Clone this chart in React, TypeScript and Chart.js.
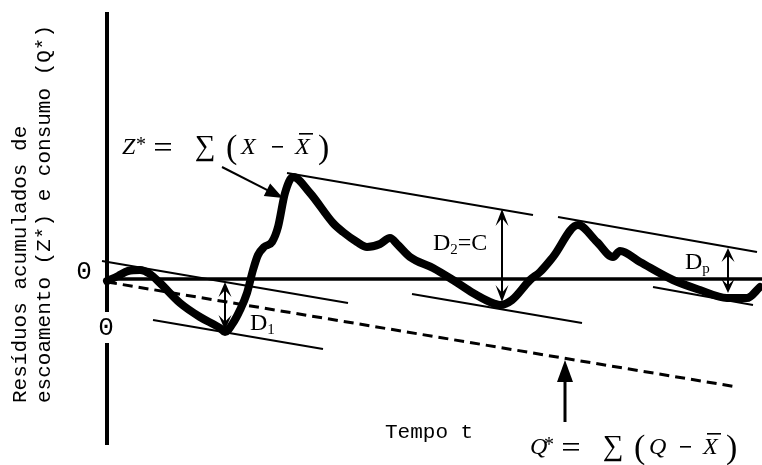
import React, { useEffect, useRef } from "react";
import { Chart, registerables } from "chart.js";

Chart.register(...registerables);

// Time t (arbitrary units) and cumulative residuals of runoff, Z* = Σ(X − X̄)
const zTime = [0, 1.1, 2.1, 3.3, 4.3, 5.3, 7.3, 9.3, 11.3, 11.8, 12.6, 13.3, 14.0, 14.6, 15.1, 15.7, 16.5, 17.1, 17.8, 18.6, 20.3, 22.6, 23.6, 25.0, 26.0, 27.3, 28.3, 29.1, 30.3, 32.6, 34.6, 36.6, 38.3, 39.3, 40.5, 42.3, 43.3, 44.6, 47.1, 49.0, 50.6, 51.3, 53.3, 56.6, 59.3, 62.0, 64.0, 65.3];
const zResidual = [-0.2, 0.3, 0.8, 0.9, 0.5, -0.4, -2.4, -3.8, -4.9, -5.3, -4.4, -3.1, -1.4, 0.9, 2.4, 3.2, 3.7, 5.2, 8.6, 10.2, 8.6, 5.6, 4.7, 3.7, 3.2, 3.5, 4.1, 3.4, 2.2, 1.1, -0.1, -1.4, -2.3, -2.6, -2.1, -0.1, 0.7, 2.2, 5.4, 3.7, 2.2, 2.8, 1.7, -0.1, -1.1, -1.9, -1.9, -0.8];

// Cumulative residuals of consumption, Q* = Σ(Q − X̄) (straight line)
const consumptionTime = [0, 63];
const consumptionResidual = [-0.3, -10.8];

// Zero reference line
const zeroTime = [0, 65.5];
const zeroResidual = [0, 0];

// Vertical axis (two pieces, broken around the origin label)
const axisUpperResidual = [26.7, -3.3];
const axisLowerResidual = [-6.4, -16.6];

// Lines parallel to Q* touching peaks (upper) and troughs (lower)
const upperTangentTime = [[-0.5, 24.1], [18.0, 42.6], [45.1, 65.0]];
const upperTangentResidual = [[1.8, -2.4], [10.6, 6.4], [6.2, 2.7]];
const lowerTangentTime = [[4.6, 21.6], [30.5, 47.5], [54.6, 64.6]];
const lowerTangentResidual = [[-4.1, -7.0], [-1.5, -4.4], [-0.8, -2.6]];

// Deficits D1, D2 = C, Dp
const deficitTime = [11.8, 39.5, 62.1];
const deficitTop = [-0.3, 7.0, 3.1];
const deficitBottom = [-5.1, -2.3, -1.4];
const deficitMain = ["D", "D", "D"];
const deficitSub = ["1", "2", "p"];
const deficitTail = ["", "=C", ""];

const pts = (ts: number[], vs: number[]) => ts.map((t, i) => ({ x: t, y: vs[i] }));

const SERIF = "'Liberation Serif', 'Times New Roman', serif";
const MONO = "'Liberation Mono', 'Courier New', monospace";

function arrowHead(ctx: CanvasRenderingContext2D, tx: number, ty: number, fx: number, fy: number, len: number, half: number, notch: number) {
  const a = Math.atan2(ty - fy, tx - fx);
  const c = Math.cos(a), s = Math.sin(a);
  const bx = tx - c * len, by = ty - s * len;
  ctx.beginPath();
  ctx.moveTo(tx, ty);
  ctx.lineTo(bx - s * half, by + c * half);
  ctx.lineTo(tx - c * (len - notch), ty - s * (len - notch));
  ctx.lineTo(bx + s * half, by - c * half);
  ctx.closePath();
  ctx.fill();
}

function formula(ctx: CanvasRenderingContext2D, x0: number, y: number, lhs: string, inner: string) {
  ctx.textBaseline = "alphabetic";
  ctx.textAlign = "left";
  const base = y + 8;
  ctx.font = `italic 24px ${SERIF}`;
  ctx.fillText(lhs, x0, base);
  ctx.font = `20px ${SERIF}`;
  ctx.fillText("*", x0 + 14, base - 3);
  // equals sign and minus drawn as bars for a wider, even look
  ctx.fillRect(x0 + 33, base - 11, 16, 1.6);
  ctx.fillRect(x0 + 33, base - 5, 16, 1.6);
  ctx.font = `29px ${SERIF}`;
  ctx.fillText("∑", x0 + 73, base + 1);
  ctx.font = `34px ${SERIF}`;
  ctx.fillText("(", x0 + 104, base + 4);
  ctx.font = `italic 24px ${SERIF}`;
  ctx.fillText(inner, x0 + 119, base);
  ctx.fillRect(x0 + 150, base - 8, 11, 1.6);
  ctx.font = `italic 24px ${SERIF}`;
  ctx.fillText("X", x0 + 173, base);
  ctx.fillRect(x0 + 177, base - 21, 14, 1.6);
  ctx.font = `34px ${SERIF}`;
  ctx.fillText(")", x0 + 196, base + 4);
}

const annotations = {
  id: "annotations",
  afterDatasetsDraw(chart: any) {
    const ctx: CanvasRenderingContext2D = chart.ctx;
    const X = (t: number) => chart.scales.x.getPixelForValue(t);
    const Y = (v: number) => chart.scales.y.getPixelForValue(v);
    ctx.save();
    ctx.fillStyle = "#000";
    ctx.strokeStyle = "#000";

    // deficit dimension arrows
    deficitTime.forEach((t, i) => {
      const x = X(t), y1 = Y(deficitTop[i]), y2 = Y(deficitBottom[i]);
      const len = Math.min(17, (y2 - y1) / 3.2);
      ctx.lineWidth = 2;
      ctx.beginPath();
      ctx.moveTo(x, y1 + 4);
      ctx.lineTo(x, y2 - 4);
      ctx.stroke();
      arrowHead(ctx, x, y1, x, y2, len, 6.5, len * 0.45);
      arrowHead(ctx, x, y2, x, y1, len, 6.5, len * 0.45);
    });

    // deficit labels
    const labelPos = [[14.3, -4.3], [32.6, 3.7], [57.8, 1.8]];
    ctx.textBaseline = "alphabetic";
    ctx.textAlign = "left";
    labelPos.forEach(([t, v], i) => {
      let x = X(t);
      const base = Y(v) + 8;
      ctx.font = `24px ${SERIF}`;
      ctx.fillText(deficitMain[i], x, base);
      x += ctx.measureText(deficitMain[i]).width;
      ctx.font = `15px ${SERIF}`;
      ctx.fillText(deficitSub[i], x, base + 4);
      x += ctx.measureText(deficitSub[i]).width;
      if (deficitTail[i]) {
        ctx.font = `24px ${SERIF}`;
        ctx.fillText(deficitTail[i], x, base);
      }
    });

    // pointer to Z*
    {
      const fx = X(11.5), fy = Y(11.2), tx = X(17.6), ty = Y(8.1);
      ctx.lineWidth = 2;
      ctx.beginPath();
      ctx.moveTo(fx, fy);
      ctx.lineTo(tx - (tx - fx) * 0.2, ty - (ty - fy) * 0.2);
      ctx.stroke();
      arrowHead(ctx, tx, ty, fx, fy, 18, 7, 0);
    }
    // pointer to Q*
    {
      const x = X(45.8), fy = Y(-14.3), ty = Y(-8.1);
      ctx.lineWidth = 3;
      ctx.beginPath();
      ctx.moveTo(x, fy);
      ctx.lineTo(x, ty + 10);
      ctx.stroke();
      arrowHead(ctx, x, ty, x, fy, 22, 8, 0);
    }

    // formulas
    formula(ctx, X(1.5), Y(13.3), "Z", "X");
    formula(ctx, X(42.3), Y(-16.7), "Q", "Q");

    // axis labels
    ctx.font = `26px ${MONO}`;
    ctx.textAlign = "center";
    ctx.textBaseline = "middle";
    ctx.fillText("0", X(-2.3), Y(0.7));
    ctx.fillText("0", X(-0.1), Y(-4.9));

    ctx.font = `21px ${MONO}`;
    ctx.textAlign = "left";
    ctx.fillText("Tempo t", X(27.8), Y(-15.3));

    const titleLines = ["Resíduos acumulados de", "escoamento (Z*) e consumo (Q*)"];
    const titleX = [20, 44];
    titleLines.forEach((txt, i) => {
      ctx.save();
      ctx.translate(titleX[i], 403);
      ctx.rotate(-Math.PI / 2);
      ctx.textAlign = "left";
      ctx.textBaseline = "middle";
      ctx.fillText(txt, 0, 0);
      ctx.restore();
    });

    ctx.restore();
  },
};

export default function App() {
  const ref = useRef<HTMLCanvasElement>(null);

  useEffect(() => {
    const canvas = ref.current!;
    const seg = (data: any[], width: number, extra: any = {}) => ({
      data,
      showLine: true,
      borderColor: "#000",
      backgroundColor: "#000",
      borderWidth: width,
      pointRadius: 0,
      tension: 0,
      fill: false,
      ...extra,
    });

    const datasets: any[] = [
      seg(pts([0, 0], axisUpperResidual), 4),
      seg(pts([0, 0], axisLowerResidual), 4),
      seg(pts(zeroTime, zeroResidual), 3.5),
      seg(pts(consumptionTime, consumptionResidual), 3, { borderDash: [10, 6] }),
      ...upperTangentTime.map((ts, i) => seg(pts(ts, upperTangentResidual[i]), 2)),
      ...lowerTangentTime.map((ts, i) => seg(pts(ts, lowerTangentResidual[i]), 2)),
      seg(pts(zTime, zResidual), 8, {
        cubicInterpolationMode: "monotone",
        borderJoinStyle: "round",
        borderCapStyle: "round",
      }),
    ];

    const chart = new Chart(canvas, {
      type: "scatter",
      data: { datasets },
      options: {
        animation: false,
        responsive: false,
        devicePixelRatio: 1,
        events: [],
        layout: { padding: 0 },
        plugins: {
          legend: { display: false },
          tooltip: { enabled: false },
          title: { display: false },
        },
        scales: {
          x: { type: "linear", display: false, min: -10.7, max: 65.5 },
          y: { type: "linear", display: false, min: -18.6, max: 27.9 },
        },
      },
      plugins: [annotations],
    });
    return () => chart.destroy();
  }, []);

  return (
    <div style={{ position: "absolute", left: 0, top: 0, width: 762, height: 465, background: "#fff" }}>
      <canvas ref={ref} width={762} height={465} style={{ display: "block", width: 762, height: 465 }} />
    </div>
  );
}
